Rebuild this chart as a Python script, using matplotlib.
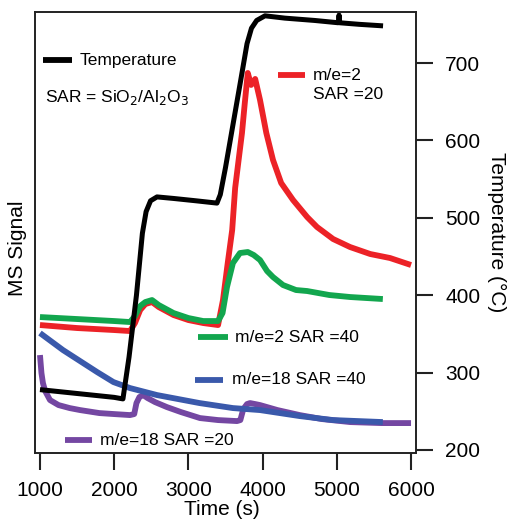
"""
MS signal and temperature vs time for two SAR zeolites.
"""
import matplotlib
matplotlib.use("Agg")
import matplotlib.pyplot as plt

plt.rcParams["font.family"] = ["Liberation Sans", "DejaVu Sans"]

# ── Data ──────────────────────────────────────────────────────────────────────
# temperature trace, right axis (deg C)
temp_t = [1000, 1500, 2000, 2118, 2200, 2300, 2380, 2430, 2490, 2577, 2800,
          3100, 3385, 3430, 3500, 3600, 3700, 3790, 3850, 3920, 4032, 4300,
          4700, 5020, 5030, 5040, 5300, 5623]
temp_T = [278, 273, 268, 266, 320, 400, 480, 508, 522, 527, 525,
          522, 519, 530, 565, 620, 675, 725, 745, 755, 761, 758,
          755, 752, 762, 752, 750, 748]

# m/e=2, SAR=20 (arbitrary units)
h2_20_t = [1000, 1500, 2000, 2213, 2280, 2350, 2420, 2510, 2600, 2800, 3000,
           3200, 3400, 3466, 3530, 3590, 3630, 3680, 3722, 3760, 3800, 3845,
           3900, 3965, 4050, 4140, 4250, 4410, 4600, 4733, 4950, 5178, 5450,
           5717, 6000]
h2_20_s = [128, 125, 123, 122, 130, 143, 149, 151, 146, 138, 133,
           130, 128, 153, 190, 223, 265, 295, 320, 350, 380, 368,
           374, 353, 320, 293, 270, 253, 236, 226, 214, 206, 199,
           195, 188]

# m/e=2, SAR=40
h2_40_t = [1000, 1500, 2000, 2213, 2280, 2350, 2420, 2510, 2600, 2800, 3000,
           3200, 3400, 3460, 3520, 3600, 3695, 3800, 3880, 3965, 4060, 4140,
           4275, 4450, 4600, 4900, 5180, 5400, 5620]
h2_40_s = [136, 134, 132, 131, 137, 147, 151, 153, 148, 140, 135,
           132, 132, 140, 166, 190, 200, 201, 198, 193, 182, 176,
           168, 163, 162, 158, 156, 155, 154]

# m/e=18, SAR=40
w_40_t = [1000, 1310, 1770, 1990, 2213, 2577, 3150, 3600, 3965, 4500, 4950, 5620]
w_40_s = [120, 103, 81, 71, 65, 58, 50, 45, 43, 37, 33, 31]

# m/e=18, SAR=20
w_20_t = [1000, 1020, 1040, 1070, 1135, 1250, 1400, 1540, 1800, 2000, 2213,
          2270, 2300, 2340, 2390, 2450, 2550, 2710, 2900, 3156, 3400, 3655,
          3700, 3740, 3790, 3830, 3900, 3965, 4200, 4500, 4800, 5180, 5600,
          6000]
w_20_s = [98, 80, 70, 62, 53, 48, 45, 43, 40, 39, 38,
          39, 50, 56, 58, 55, 51, 46, 41, 35, 33, 32,
          33, 44, 49, 50, 49, 48, 43, 38, 34, 31, 30,
          30]

x_ticks = [1000, 2000, 3000, 4000, 5000, 6000]
t_ticks = [200, 300, 400, 500, 600, 700]

# ── Palette ───────────────────────────────────────────────────────────────────
C = {
    "red":    "#ec2227",
    "green":  "#12a64e",
    "blue":   "#3a59ab",
    "purple": "#7447a2",
    "black":  "#000000",
    "axis":   "#222222",
}
LW = 4.2
FS_TICK = 15
FS_LEG = 12.5

# ── Canvas ────────────────────────────────────────────────────────────────────
fig = plt.figure(figsize=(5.11, 5.19), dpi=100)
ax = fig.add_axes([0.0685, 0.127, 0.7456, 0.85])
ax2 = ax.twinx()

ax.plot(h2_20_t, h2_20_s, color=C["red"], lw=LW, solid_capstyle="butt")
ax.plot(h2_40_t, h2_40_s, color=C["green"], lw=LW, solid_capstyle="butt")
ax.plot(w_20_t, w_20_s, color=C["purple"], lw=LW, solid_capstyle="butt")
ax.plot(w_40_t, w_40_s, color=C["blue"], lw=LW, solid_capstyle="butt")
ax2.plot(temp_t, temp_T, color=C["black"], lw=3.6, solid_capstyle="butt")

ax.set_xlim(933, 6067)
ax.set_ylim(0, 441)
ax2.set_ylim(196, 766)

# ── Axes styling ──────────────────────────────────────────────────────────────
for a in (ax, ax2):
    for sp in a.spines.values():
        sp.set_linewidth(1.2)
        sp.set_color(C["axis"])

ax.set_yticks([])
ax.set_xticks(x_ticks)
ax.tick_params(axis="x", direction="out", length=12, width=1.5,
               pad=8, labelsize=FS_TICK, color=C["axis"])
ax2.set_yticks(t_ticks)
ax2.tick_params(axis="y", direction="out", length=12, width=1.5,
                pad=9, labelsize=FS_TICK, color=C["axis"])

ax.set_xlabel("Time (s)", fontsize=FS_TICK)
ax.xaxis.set_label_coords(0.49, -0.106)
ax.set_ylabel("MS Signal", fontsize=FS_TICK)
ax.yaxis.set_label_coords(-0.022, 0.465)
ax2.set_ylabel("Temperature (°C)", fontsize=FS_TICK, rotation=270, va="bottom")
ax2.yaxis.set_label_coords(1.186, 0.5)

# ── In-plot labels ────────────────────────────────────────────────────────────
def key(x0, x1, y, color, text, tx):
    ax.plot([x0, x1], [y, y], transform=ax.transAxes, color=color, lw=LW,
            solid_capstyle="butt", clip_on=False)
    ax.text(tx, y, text, transform=ax.transAxes, fontsize=FS_LEG,
            ha="left", va="center")

key(0.021, 0.097, 0.891, C["black"], "Temperature", 0.118)
ax.text(0.026, 0.805, "SAR = SiO$_2$/Al$_2$O$_3$", transform=ax.transAxes,
        fontsize=FS_LEG, ha="left", va="center")
key(0.638, 0.709, 0.857, C["red"], "m/e=2", 0.730)
ax.text(0.730, 0.812, "SAR =20", transform=ax.transAxes, fontsize=FS_LEG,
        ha="left", va="center")
key(0.428, 0.507, 0.263, C["green"], "m/e=2 SAR =40", 0.525)
key(0.420, 0.493, 0.166, C["blue"], "m/e=18 SAR =40", 0.517)
key(0.079, 0.150, 0.029, C["purple"], "m/e=18 SAR =20", 0.171)

plt.savefig("out.png", dpi=100)
